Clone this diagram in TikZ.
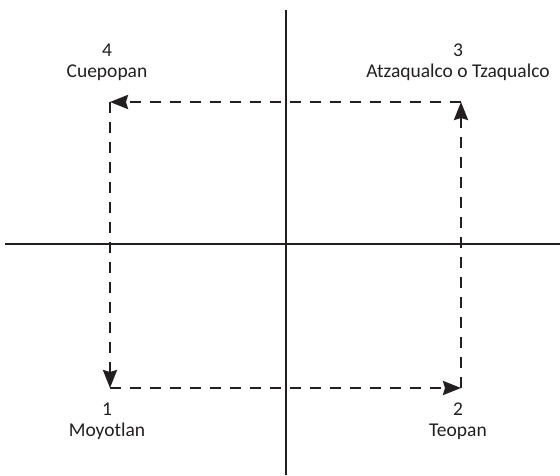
\documentclass[tikz,border=0pt]{standalone}
\usepackage{fontspec}
\setmainfont{Carlito}
\usepackage{tikz}
\usetikzlibrary{positioning,arrows.meta}
\definecolor{ink}{HTML}{231F20}

\begin{document}
\begin{tikzpicture}[x=1pt, y=1pt,
  axis/.style={draw=ink, line width=2pt},
  route/.style={draw=ink, line width=2.5pt, dash pattern=on 11pt off 9pt,
                -{Stealth[length=18pt, width=14pt, inset=2pt]}},
  lab/.style={font=\fontsize{19.5}{21}\selectfont, text=ink, align=center, inner sep=0pt}]
\useasboundingbox (0,0) rectangle (560,-475);
\coordinate (xl) at (5,-244);
\coordinate (xr) at (560,-244);
\coordinate (yt) at (286,-10);
\coordinate (yb) at (286,-475);
\draw[axis] (xl) -- (xr);
\draw[axis] (yt) -- (yb);
\coordinate (moyo) at (110,-388);
\coordinate (teo) at (461,-388);
\coordinate (atza) at (461,-102);
\coordinate (cue) at (110,-102);
\draw[route] (moyo) -- (teo);
\draw[route] (teo) -- (atza);
\draw[route] (atza) -- (cue);
\draw[route] (cue) -- (moyo);
\node[lab, below=15pt of moyo, xshift=-3pt] (lmoyo) {1\\Moyotlan};
\node[lab, below=15pt of teo, xshift=-3pt] (lteo) {2\\Teopan};
\node[lab, above=21pt of atza, xshift=-3pt] (latza) {3\\Atzaqualco o Tzaqualco};
\node[lab, above=21pt of cue, xshift=-3pt] (lcue) {4\\Cuepopan};
\end{tikzpicture}
\end{document}
